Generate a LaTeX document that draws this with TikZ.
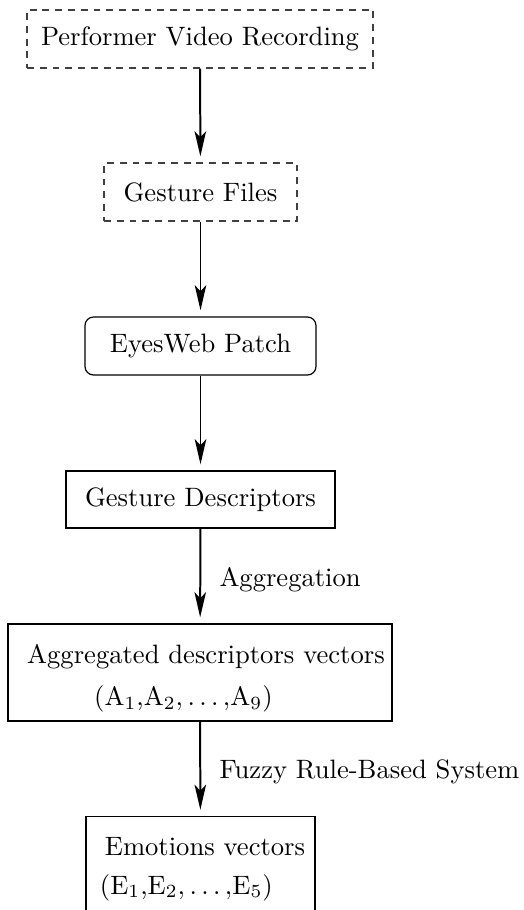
\documentclass[tikz,border=0pt]{standalone}
\usetikzlibrary{arrows.meta}
\newdimen\pxu \pxu=0.376pt
\begin{document}
\begin{tikzpicture}[x=0.376pt,y=-0.376pt,
  box/.style={draw, line width=0.45pt, inner sep=0pt, font=\normalsize},
  dbox/.style={box, draw=black!75, line width=0.4pt, dash pattern=on 2.6pt off 2.2pt},
  rbox/.style={box, rounded corners=3.2pt},
  flow/.style={-{Stealth[length=9.4pt,width=4.3pt,inset=2.2pt]}, line width=0.75pt, shorten >=2.3pt},
  lab/.style={anchor=base west, inner sep=0pt}]
\useasboundingbox (0,0) rectangle (523,910);
\clip (0,0) rectangle (523,910);
\node[dbox, minimum width=346\pxu, minimum height=58\pxu] (b1) at (200,39) {Performer Video Recording};
\node[dbox, minimum width=193\pxu, minimum height=58\pxu] (b2) at (200.5,192) {Gesture Files};
\node[rbox, minimum width=231\pxu, minimum height=58\pxu] (b3) at (200.5,346) {EyesWeb Patch};
\node[box, minimum width=269\pxu, minimum height=57\pxu] (b4) at (200.5,499.5) {Gesture Descriptors};
\node[box, minimum width=384\pxu, minimum height=97\pxu, align=left] (b5) at (200,672.5)
  {\rule{0pt}{11.5pt}\hspace*{12\pxu}Aggregated descriptors vectors\\[3.8pt]\hspace*{79\pxu}(A$_1$,A$_2,\ldots,$A$_9$)};
\node[box, minimum width=229\pxu, minimum height=97\pxu, align=left] (b6) at (200.5,865)
  {\rule{0pt}{10pt}\hspace*{9\pxu}Emotions vectors\\[2.3pt]\hspace*{4\pxu}(E$_1$,E$_2,\ldots,$E$_5$)};
\draw[flow] (b1) -- (b2);
\draw[flow] (b2) -- (b3);
\draw[flow] (b3) -- (b4);
\draw[flow] (b4) -- (b5);
\draw[flow] (b5) -- (b6);
\node[lab] (l1) at (219,586) {Aggregation};
\node[lab] (l2) at (219,778) {Fuzzy Rule-Based System};
\end{tikzpicture}
\end{document}
